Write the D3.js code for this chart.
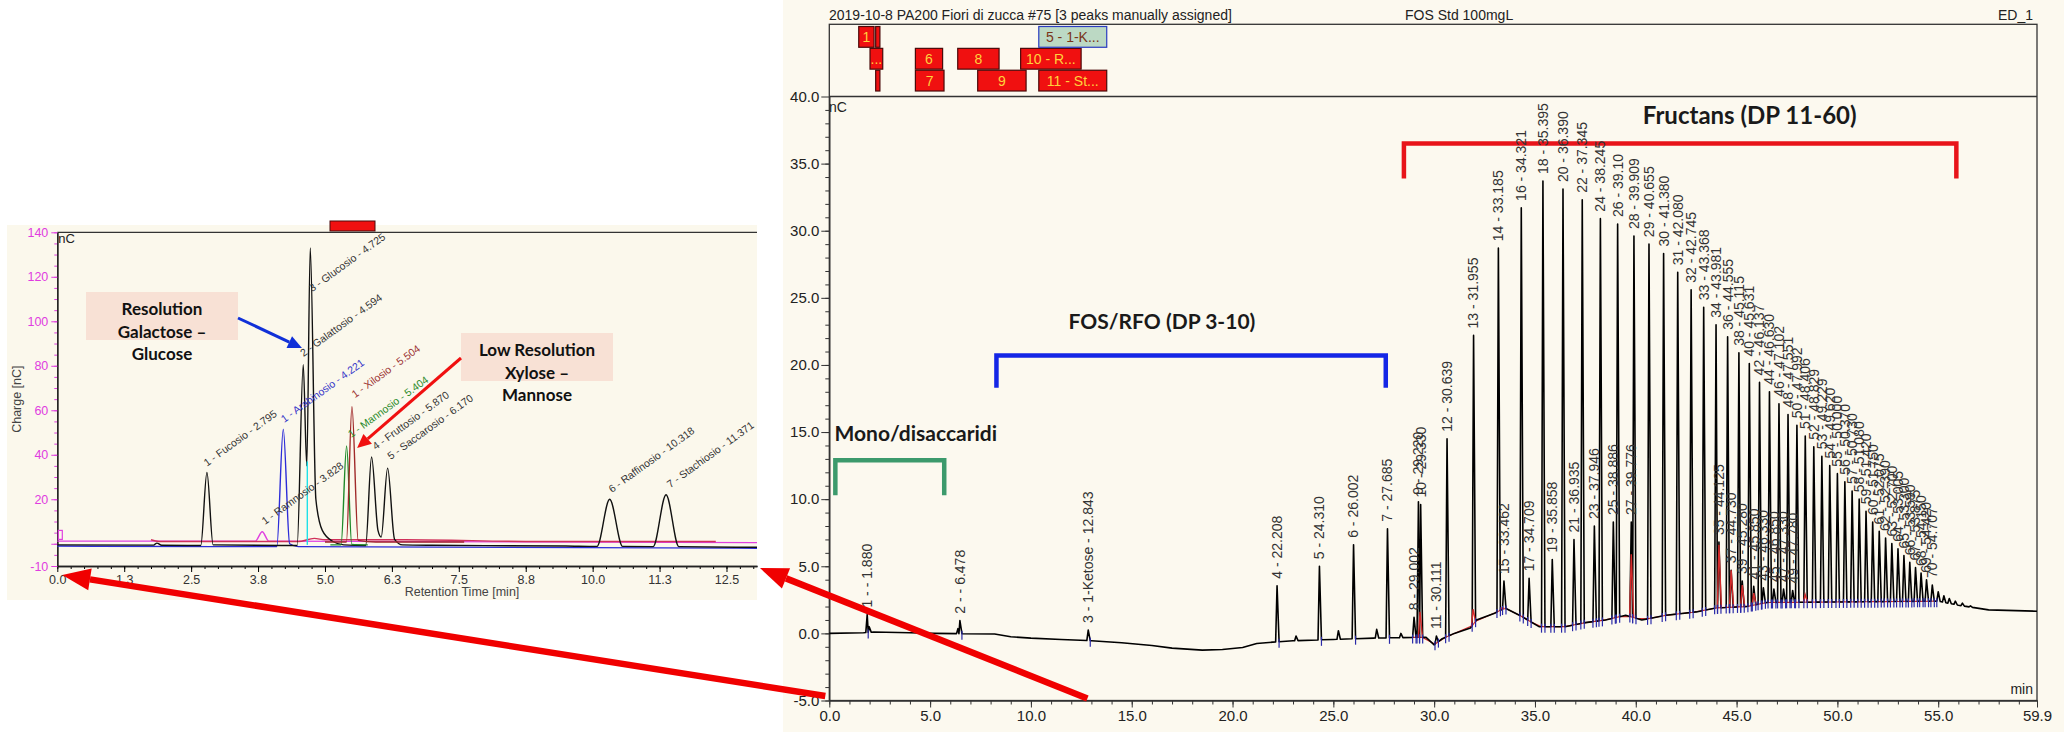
<!DOCTYPE html>
<html>
<head>
<meta charset="utf-8">
<script src="https://cdn.jsdelivr.net/npm/d3@7"></script>
<style>
  body { margin: 0; background: #fff; }
  text { font-family: "Liberation Sans", Arial, sans-serif; }
  .note { font-family: Lato, "Open Sans", sans-serif; font-weight: 700; }
</style>
</head>
<body>
<div id="chart"></div>
<script>
// ---------- main chromatogram (FOS Std) ----------
var mainTitle = "2019-10-8 PA200 Fiori di zucca #75 [3 peaks manually assigned]";
var sampleName = "FOS Std 100mgL";
var channelName = "ED_1";

var mainXTicks = [0, 5, 10, 15, 20, 25, 30, 35, 40, 45, 50, 55, 59.9];
var mainXTickLabels = ["0.0", "5.0", "10.0", "15.0", "20.0", "25.0", "30.0", "35.0", "40.0", "45.0", "50.0", "55.0", "59.9"];
var mainYTicks = [-5, 0, 5, 10, 15, 20, 25, 30, 35, 40];
var mainYTickLabels = ["-5.0", "0.0", "5.0", "10.0", "15.0", "20.0", "25.0", "30.0", "35.0", "40.0"];

// baseline drift (min, nC)
var baseTimes = [0, 1.7, 2.2, 4.0, 5.2, 8.2, 9.0, 10.0, 11.5, 13.0, 14.5, 16.0, 17.0, 18.5, 19.5, 20.5, 21.2, 22.0, 23.0, 25.0, 27.0, 29.0, 29.6, 30.0, 30.4, 31.0, 31.8, 32.1, 33.0, 33.5, 34.3, 35.2, 36.5, 37.5, 38.5, 39.5, 40.3, 41.5, 43.0, 44.0, 45.5, 46.5, 55.0, 56.0, 57.5, 59.9];
var baseValues = [0.0, 0.05, 0.1, 0.05, 0.0, -0.05, -0.25, -0.35, -0.45, -0.55, -0.7, -0.9, -1.1, -1.25, -1.2, -1.05, -0.75, -0.65, -0.55, -0.45, -0.35, -0.3, -0.3, -0.85, -0.4, 0.0, 0.4, 1.0, 1.5, 1.9, 1.3, 0.5, 0.5, 0.8, 1.0, 1.35, 1.0, 1.35, 1.6, 1.9, 2.0, 2.3, 2.4, 2.1, 1.75, 1.65];

// peaks: retention time, apex (nC), label
var peakTimes = [1.880, 1.98, 6.38, 6.478, 12.843, 22.208, 23.15, 24.310, 25.25, 26.002, 27.15, 27.685, 28.35, 29.002, 29.220, 29.330, 30.111, 30.639, 31.955, 33.185, 33.462, 34.321, 34.709, 35.395, 35.858, 36.390, 36.935, 37.345, 37.946, 38.245, 38.886, 39.100, 39.776, 39.909, 40.655, 41.380, 42.080, 42.745, 43.368, 43.981, 44.125, 44.555, 44.730, 45.115, 45.280, 45.631, 45.850, 46.137, 46.330, 46.630, 46.850, 47.102, 47.330, 47.551, 47.780, 47.992, 48.406, 48.829, 49.229, 49.620, 50.000, 50.370, 50.730, 51.080, 51.420, 51.750, 52.075, 52.390, 52.700, 53.005, 53.300, 53.590, 53.875, 54.150, 54.420, 54.707, 55.00, 55.28, 55.55, 55.85, 56.20, 56.60];
var peakApex = [1.4, 0.5, 0.35, 0.95, 0.25, 3.55, -0.2, 5.0, 0.2, 6.6, 0.3, 7.8, 0.0, 1.2, 9.8, 9.6, -0.2, 14.5, 22.2, 28.7, 3.9, 31.7, 4.1, 33.7, 5.5, 33.1, 7.0, 32.3, 8.0, 30.9, 8.3, 30.5, 8.3, 29.6, 29.0, 28.3, 26.9, 25.6, 24.3, 23.0, 6.8, 22.1, 4.7, 20.9, 3.9, 20.1, 3.5, 18.7, 3.4, 18.0, 3.3, 17.1, 3.3, 16.3, 3.2, 15.5, 14.7, 13.9, 13.2, 12.5, 11.9, 11.3, 10.6, 10.0, 9.1, 8.3, 7.6, 7.1, 6.7, 6.3, 5.8, 5.3, 4.9, 4.5, 4.0, 3.6, 3.1, 2.8, 2.6, 2.4, 2.25, 2.05];
var peakLabels = ["1 -  - 1.880", "", "", "2 -  - 6.478", "3 - 1-Ketose - 12.843", "4 - 22.208", "", "5 - 24.310", "", "6 - 26.002", "", "7 - 27.685", "", "8 - 29.002", "9 - 29.220", "10 - 29.330", "11 - 30.111", "12 - 30.639", "13 - 31.955", "14 - 33.185", "15 - 33.462", "16 - 34.321", "17 - 34.709", "18 - 35.395", "19 - 35.858", "20 - 36.390", "21 - 36.935", "22 - 37.345", "23 - 37.946", "24 - 38.245", "25 - 38.886", "26 - 39.10", "27 - 39.776", "28 - 39.909", "29 - 40.655", "30 - 41.380", "31 - 42.080", "32 - 42.745", "33 - 43.368", "34 - 43.981", "35 - 44.125", "36 - 44.555", "37 - 44.730", "38 - 45.115", "39 - 45.280", "40 - 45.631", "41 - 45.850", "42 - 46.137", "43 - 46.330", "44 - 46.630", "45 - 46.850", "46 - 47.102", "47 - 47.330", "48 - 47.551", "49 - 47.780", "50 - 47.992", "51 - 48.406", "52 - 48.829", "53 - 49.229", "54 - 49.620", "55 - 50.000", "56 - 50.370", "57 - 50.730", "58 - 51.080", "59 - 51.420", "60 - 51.750", "61 - 52.075", "62 - 52.390", "63 - 52.700", "64 - 53.005", "65 - 53.300", "66 - 53.590", "67 - 53.875", "68 - 54.150", "69 - 54.420", "70 - 54.707", "", "", "", "", "", ""];

// small riders integrated in red
var riderTimes = [29.30, 31.93, 33.35, 39.776, 44.125, 44.730, 45.280, 45.850, 48.40];
var riderValues = [1.6, 1.8, 1.9, 5.9, 6.6, 4.7, 3.6, 3.0, 2.9];

// peak table strip on top
var stripLabels = ["1", "", "...", "", "6", "7", "8", "9", "10 - R...", "11 - St...", "5 - 1-K..."];
var stripStart = [1.46, 2.30, 2.02, 2.30, 4.27, 4.27, 6.37, 7.36, 9.49, 10.39, 10.39];
var stripEnd = [2.22, 2.51, 2.65, 2.51, 5.62, 5.69, 8.42, 9.76, 12.49, 13.76, 13.76];
var stripRow = [0, 0, 1, 2, 1, 2, 1, 2, 1, 2, 0];
var stripSelected = [false, false, false, false, false, false, false, false, false, false, true];

// region brackets
var bracketNames = ["Mono/disaccaridi", "FOS/RFO (DP 3-10)", "Fructans (DP 11-60)"];
var bracketStart = [0.3, 8.29, 28.5];
var bracketEnd = [5.7, 27.6, 55.9];
var bracketTop = [12.9, 20.7, 36.5];
var bracketFoot = [10.3, 18.3, 33.9];
var bracketColors = ["#3c9a6c", "#1426e6", "#e8141a"];

// ---------- inset: monosaccharide standards ----------
var insetXTicks = [0, 1.25, 2.5, 3.75, 5, 6.25, 7.5, 8.75, 10, 11.25, 12.5];
var insetXTickLabels = ["0.0", "1.3", "2.5", "3.8", "5.0", "6.3", "7.5", "8.8", "10.0", "11.3", "12.5"];
var insetYTicks = [-10, 0, 20, 40, 60, 80, 100, 120, 140];
var insetYTickLabels = ["-10", "", "20", "40", "60", "80", "100", "120", "140"];

var blackTraceT = [0, 1.8, 1.86, 1.95, 2.68, 2.795, 2.91, 4.48, 4.594, 4.66, 4.725, 4.83, 4.95, 5.15, 5.35, 5.76, 5.870, 5.99, 6.05, 6.170, 6.30, 6.45, 7.0, 9.5, 10.08, 10.318, 10.56, 11.13, 11.371, 11.61, 13.07];
var blackTraceV = [-0.5, -0.6, 0.3, -0.7, -0.8, 32, -0.5, -0.8, 80.5, 35, 133, 20, 6, 1, -0.5, -0.8, 39, 6, 3, 34, 2, -0.5, -0.7, -1.0, -1.2, 20, -1.2, -1.3, 22, -1.3, -1.6];
var blueTraceT = [0, 2.9, 4.10, 4.221, 4.34, 4.5, 13.07];
var blueTraceV = [-1.0, -1.3, -1.3, 51.5, 0.0, -1.3, -2.0];
var greenTraceT = [5.1, 5.30, 5.404, 5.50, 5.8];
var greenTraceV = [-0.5, -0.5, 44, -0.3, -0.5];
var xyloseTraceT = [5.0, 5.40, 5.504, 5.62, 5.95, 7.6];
var xyloseTraceV = [0.8, 0.8, 61.6, 1.5, 0.8, 0.8];
var magentaTraceT = [0, 3.70, 3.828, 3.95, 13.07];
var magentaTraceV = [1.2, 1.2, 5.4, 1.2, 0.5];
var pinkTraceT = [1.75, 1.9, 4.5, 4.8, 5.0, 6.5, 9.0, 12.3];
var pinkTraceV = [1.8, 1.0, 1.0, 2.4, 1.8, 1.8, 1.0, 1.0];
var cyanTraceT = [4.67, 4.67];
var cyanTraceV = [-0.5, 37];

var insetLabels = ["1 - Fucosio - 2.795", "1 - Ramnosio - 3.828", "1 - Arabinosio - 4.221", "2 - Galattosio - 4.594", "3 - Glucosio - 4.725", "1 - Mannosio - 5.404", "1 - Xilosio - 5.504", "4 - Fruttosio - 5.870", "5 - Saccarosio - 6.170", "6 - Raffinosio - 10.318", "7 - Stachiosio - 11.371"];
var insetLabelT = [2.795, 3.88, 4.24, 4.60, 4.76, 5.49, 5.56, 5.95, 6.23, 10.36, 11.45];
var insetLabelV = [34.6, 8.4, 54.3, 84, 113, 47.5, 65.4, 42, 37.6, 22.8, 25];
var insetLabelColors = ["#333", "#333", "#3535c8", "#333", "#333", "#2a8a2a", "#9a3030", "#333", "#333", "#333", "#333"];


var W = 2064, H = 732;
var svg = d3.select("#chart").append("svg").attr("width", W).attr("height", H);

// panel backgrounds
svg.append("rect").attr("x", 783).attr("y", 0).attr("width", W - 783).attr("height", H).attr("fill", "#fcf9ef");
svg.append("rect").attr("x", 7).attr("y", 225).attr("width", 750).attr("height", 375).attr("fill", "#fbf8ec");

// ================= main chart =================
var x = d3.scaleLinear().domain([0, 59.9]).range([829.3, 2037]);
var y = d3.scaleLinear().domain([-5, 40]).range([700.5, 96.5]);
var baseAt = d3.scaleLinear().domain(baseTimes).range(baseValues).clamp(true);
var main = svg.append("g");

main.append("text").attr("x", 829).attr("y", 20).attr("font-size", 14).attr("fill", "#222").text(mainTitle);
main.append("text").attr("x", 1405).attr("y", 20).attr("font-size", 14).attr("fill", "#222").text(sampleName);
main.append("text").attr("x", 2033).attr("y", 20).attr("font-size", 14).attr("fill", "#222").attr("text-anchor", "end").text(channelName);

main.append("rect").attr("x", 829.3).attr("y", 24.3).attr("width", 2037 - 829.3).attr("height", 700.5 - 24.3)
  .attr("fill", "none").attr("stroke", "#333").attr("stroke-width", 1.3);
main.append("line").attr("x1", 829.3).attr("x2", 2037).attr("y1", y(40)).attr("y2", y(40)).attr("stroke", "#333").attr("stroke-width", 1.3);

// peak table strip
var row = d3.scaleBand().domain([0, 1, 2]).range([26.5, 91]).paddingInner(0.05);
var strip = main.append("g");
stripLabels.forEach(function(lab, i) {
  var sel = stripSelected[i];
  strip.append("rect")
    .attr("x", x(stripStart[i])).attr("y", row(stripRow[i]))
    .attr("width", x(stripEnd[i]) - x(stripStart[i])).attr("height", row.bandwidth())
    .attr("fill", sel ? "#bcd9c4" : "#f01010")
    .attr("stroke", sel ? "#2a3cc0" : "#4a0a0a").attr("stroke-width", 1.2);
  if (lab) {
    strip.append("text")
      .attr("x", (x(stripStart[i]) + x(stripEnd[i])) / 2).attr("y", row(stripRow[i]) + row.bandwidth() / 2)
      .attr("dy", "0.35em").attr("text-anchor", "middle").attr("font-size", 14)
      .attr("fill", sel ? "#7a3418" : "#ffd23c").text(lab);
  }
});

// axes
var axX = main.append("g").attr("transform", "translate(0," + y(-5) + ")");
axX.append("g").call(d3.axisBottom(x).tickValues(d3.range(0, 60, 1)).tickSize(4).tickFormat("").tickSizeOuter(0));
axX.append("g").call(d3.axisBottom(x).tickValues(mainXTicks).tickSize(7).tickSizeOuter(0)
  .tickFormat(function(d, i) { return mainXTickLabels[i]; }));
var axY = main.append("g").attr("transform", "translate(" + x(0) + ",0)");
axY.append("g").call(d3.axisLeft(y).tickValues(d3.range(-5, 40, 1)).tickSize(4).tickFormat("").tickSizeOuter(0));
axY.append("g").call(d3.axisLeft(y).tickValues(mainYTicks).tickSize(8).tickPadding(2).tickSizeOuter(0)
  .tickFormat(function(d, i) { return mainYTickLabels[i]; }));
main.selectAll(".domain").attr("stroke", "#333");
main.selectAll(".tick line").attr("stroke", "#333");
main.selectAll(".tick text").attr("font-family", "Liberation Sans, Arial, sans-serif").attr("font-size", 15).attr("fill", "#222");

main.append("text").attr("x", 829).attr("y", 112).attr("font-size", 14).attr("fill", "#222").text("nC");
main.append("text").attr("x", 2033).attr("y", 694).attr("font-size", 14).attr("fill", "#222").attr("text-anchor", "end").text("min");

// brackets
bracketNames.forEach(function(name, i) {
  main.append("path")
    .attr("d", "M" + x(bracketStart[i]) + "," + y(bracketFoot[i]) + "V" + y(bracketTop[i]) + "H" + x(bracketEnd[i]) + "V" + y(bracketFoot[i]))
    .attr("fill", "none").attr("stroke", bracketColors[i]).attr("stroke-width", 4.5);
});
main.append("text").attr("class", "note").attr("x", x(0.26)).attr("y", y(14.9)).attr("dy", "0.35em")
  .attr("font-size", 21).attr("fill", "#1a1a1a").text(bracketNames[0]);
main.append("text").attr("class", "note").attr("x", x(16.5)).attr("y", y(23.2)).attr("dy", "0.35em")
  .attr("text-anchor", "middle").attr("font-size", 21).attr("fill", "#1a1a1a").text(bracketNames[1]);
main.append("text").attr("class", "note").attr("x", x(45.65)).attr("y", y(38.6)).attr("dy", "0.35em")
  .attr("text-anchor", "middle").attr("font-size", 24).attr("fill", "#1a1a1a").text(bracketNames[2]);

// trace points from baseline + peaks
var peaks = peakTimes.map(function(t, i) { return { t: t, v: peakApex[i], label: peakLabels[i] }; });
var pts = [];
var bounds = [];
peaks.forEach(function(p, i) {
  var prev = peaks[i - 1], next = peaks[i + 1];
  var wl = Math.min(0.07, prev ? (p.t - prev.t) / 2 : 0.07);
  var wr = Math.min(0.10, next ? (next.t - p.t) / 2 : 0.10);
  pts.push([p.t - wl, baseAt(p.t - wl)], [p.t, p.v], [p.t + wr, baseAt(p.t + wr)]);
  bounds.push(p.t - wl, p.t + wr);
});
baseTimes.forEach(function(t, i) {
  var inside = peaks.some(function(p) { return t > p.t - 0.1 && t < p.t + 0.12; });
  if (!inside) pts.push([t, baseValues[i]]);
});
pts.sort(function(a, b) { return a[0] - b[0]; });

var line = d3.line().x(function(d) { return x(d[0]); }).y(function(d) { return y(d[1]); });

// red integration baseline
var redPts = bounds.filter(function(t) { return t > 28.8 && t < 55; })
  .map(function(t) { return [t, baseAt(t)]; });
main.append("path").attr("d", line(redPts)).attr("fill", "none").attr("stroke", "#d42a2a").attr("stroke-width", 1.2);

main.append("path").attr("d", line(pts)).attr("fill", "none").attr("stroke", "#000").attr("stroke-width", 1.6)
  .attr("stroke-linejoin", "round");

riderTimes.forEach(function(t, i) {
  var r = [[t - 0.08, baseAt(t - 0.08)], [t, riderValues[i]], [t + 0.12, baseAt(t + 0.12)]];
  main.append("path").attr("d", line(r)).attr("fill", "none").attr("stroke", "#d42a2a").attr("stroke-width", 1.4);
});

// blue peak delimiters
var tickTimes = bounds.filter(function(t, i) { return t > 28.8 && t < 55 || (t < 28.8 && i % 2 === 1 && peakLabels[Math.floor(i / 2)]); });
main.append("g").selectAll("line").data(tickTimes).enter().append("line")
  .attr("x1", function(d) { return x(d); }).attr("x2", function(d) { return x(d); })
  .attr("y1", function(d) { return y(baseAt(d)) - 3; }).attr("y2", function(d) { return y(baseAt(d)) + 6; })
  .attr("stroke", "#2a2aa8").attr("stroke-width", 1.2);

// peak labels
main.append("g").selectAll("text").data(peaks.filter(function(p) { return p.label; })).enter().append("text")
  .attr("transform", function(d) { return "translate(" + x(d.t) + "," + (y(d.v) - 7) + ") rotate(-90)"; })
  .attr("dy", "0.35em").attr("font-size", 14).attr("fill", "#333").text(function(d) { return d.label; });

// ================= inset =================
var xi = d3.scaleLinear().domain([0, 13.07]).range([57.3, 757]);
var yi = d3.scaleLinear().domain([-10, 140]).range([566, 232.3]);
var inset = svg.append("g");

inset.append("rect").attr("x", 330).attr("y", 221).attr("width", 45).attr("height", 10)
  .attr("fill", "#f01010").attr("stroke", "#4a0a0a");
inset.append("line").attr("x1", xi(0)).attr("x2", 757).attr("y1", yi(140)).attr("y2", yi(140)).attr("stroke", "#333").attr("stroke-width", 1.3);

var iax = inset.append("g").attr("transform", "translate(0," + yi(-10) + ")");
iax.append("g").call(d3.axisBottom(xi).tickValues(d3.range(0, 13.07, 0.25)).tickSize(3).tickFormat("").tickSizeOuter(0));
iax.append("g").call(d3.axisBottom(xi).tickValues(insetXTicks).tickSize(6).tickSizeOuter(0)
  .tickFormat(function(d, i) { return insetXTickLabels[i]; }));
iax.selectAll(".tick text").attr("font-family", "Liberation Sans, Arial, sans-serif").attr("font-size", 12.5).attr("fill", "#333");
var iay = inset.append("g").attr("transform", "translate(" + xi(0) + ",0)");
iay.append("g").call(d3.axisLeft(yi).tickValues(d3.range(-10, 141, 5)).tickSize(3).tickFormat("").tickSizeOuter(0));
iay.append("g").call(d3.axisLeft(yi).tickValues(insetYTicks).tickSize(6).tickSizeOuter(0)
  .tickFormat(function(d, i) { return insetYTickLabels[i]; }));
iay.selectAll(".tick line").attr("stroke", "#e03ce0");
iay.selectAll(".tick text").attr("font-family", "Liberation Sans, Arial, sans-serif").attr("font-size", 12.5).attr("fill", "#e03ce0");
inset.selectAll(".domain").attr("stroke", "#222").attr("stroke-width", 1.3);

inset.append("text").attr("x", xi(0) + 1).attr("y", 243).attr("font-size", 13).attr("fill", "#222").text("nC");
inset.append("text").attr("transform", "translate(17," + yi(65) + ") rotate(-90)").attr("text-anchor", "middle")
  .attr("dy", "0.35em").attr("font-size", 12.5).attr("fill", "#444").text("Charge [nC]");
inset.append("text").attr("x", 462).attr("y", 596).attr("text-anchor", "middle").attr("font-size", 12.5).attr("fill", "#444")
  .text("Retention Time [min]");

var iline = d3.line().x(function(d) { return xi(d[0]); }).y(function(d) { return yi(d[1]); }).curve(d3.curveMonotoneX);
var traces = [
  [magentaTraceT, magentaTraceV, "#e040e0"],
  [pinkTraceT, pinkTraceV, "#d0305a"],
  [blueTraceT, blueTraceV, "#2c2cd8"],
  [blackTraceT, blackTraceV, "#111"],
  [greenTraceT, greenTraceV, "#1f8a2a"],
  [xyloseTraceT, xyloseTraceV, "#a02a2a"],
  [cyanTraceT, cyanTraceV, "#20e0e8"]
];
traces.forEach(function(tr) {
  var p = tr[0].map(function(t, i) { return [t, tr[1][i]]; });
  inset.append("path").attr("d", (tr[0][0] === tr[0][1] ? d3.line().x(function(d) { return xi(d[0]); }).y(function(d) { return yi(d[1]); }) : iline)(p))
    .attr("fill", "none").attr("stroke", tr[2]).attr("stroke-width", 1.4);
});
inset.append("rect").attr("x", xi(0) + 1).attr("y", yi(6)).attr("width", 4).attr("height", 9).attr("fill", "none")
  .attr("stroke", "#e040e0").attr("stroke-width", 1.2);

inset.append("g").selectAll("text").data(insetLabels).enter().append("text")
  .attr("transform", function(d, i) { return "translate(" + xi(insetLabelT[i]) + "," + yi(insetLabelV[i]) + ") rotate(-36)"; })
  .attr("font-family", "Liberation Sans Narrow, Liberation Sans, sans-serif").attr("font-size", 10.5)
  .attr("fill", function(d, i) { return insetLabelColors[i]; }).text(function(d) { return d; });

// ================= annotations =================
function arrow(g, x1, y1, x2, y2, color, width, headLen, headW) {
  var ang = Math.atan2(y2 - y1, x2 - x1);
  var bx = x2 - headLen * Math.cos(ang), by = y2 - headLen * Math.sin(ang);
  g.append("line").attr("x1", x1).attr("y1", y1).attr("x2", bx).attr("y2", by)
    .attr("stroke", color).attr("stroke-width", width);
  var px = -Math.sin(ang) * headW / 2, py = Math.cos(ang) * headW / 2;
  g.append("polygon").attr("points", [[x2, y2], [bx + px, by + py], [bx - px, by - py]].join(" ")).attr("fill", color);
}

var notes = svg.append("g");
function noteBox(x0, y0, w, h, lines, cy) {
  notes.append("rect").attr("x", x0).attr("y", y0).attr("width", w).attr("height", h).attr("fill", "#f8e1d5");
  lines.forEach(function(t, i) {
    notes.append("text").attr("class", "note").attr("x", x0 + w / 2).attr("y", cy[i]).attr("dy", "0.35em")
      .attr("text-anchor", "middle").attr("font-size", 17).attr("fill", "#111").text(t);
  });
}
noteBox(86, 292, 152, 48, ["Resolution", "Galactose \u2013", "Glucose"], [309, 332, 354]);
noteBox(461, 333, 152, 48, ["Low Resolution", "Xylose \u2013", "Mannose"], [350, 373, 395]);
arrow(notes, 238, 318, xi(4.57), yi(88), "#1030d8", 3, 14, 13);
arrow(notes, 461, 358, xi(5.6), yi(43), "#f01010", 3, 14, 13);

// cross-panel arrows (inset covers 0-13 min of the main run)
arrow(notes, x(0) - 4, y(-5) - 4.5, xi(0) + 5, yi(-10) + 9, "#f00000", 6.5, 28, 22);
arrow(notes, x(12.8), y(-5) - 2, xi(13.07) + 3, yi(-10) + 2, "#f00000", 6.5, 28, 22);
</script>
</body>
</html>
